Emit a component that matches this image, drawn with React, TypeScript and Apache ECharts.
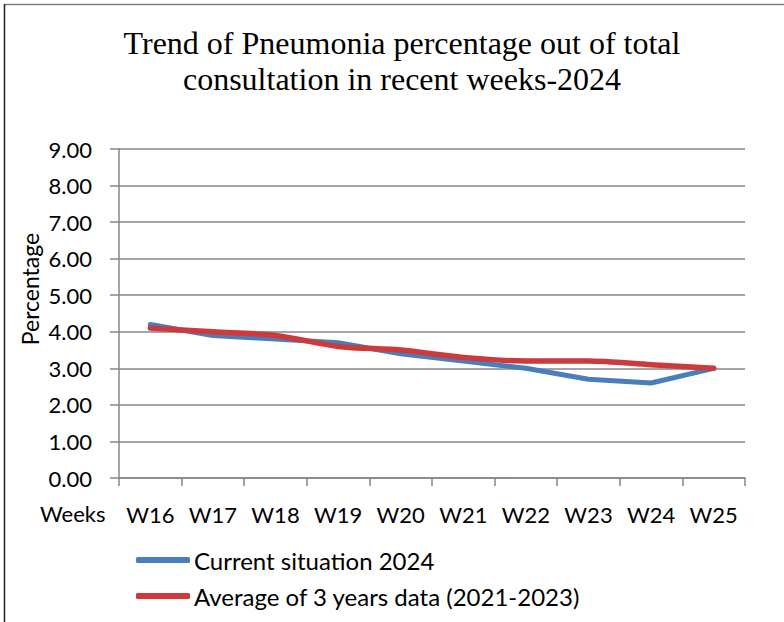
import React, { useEffect, useRef } from "react";
import * as echarts from "echarts";

const weeks = ["W16", "W17", "W18", "W19", "W20", "W21", "W22", "W23", "W24", "W25"];
const current2024 = [4.2, 3.9, 3.8, 3.7, 3.4, 3.2, 3.0, 2.7, 2.6, 3.0];
const avg3Years = [4.1, 4.0, 3.9, 3.6, 3.5, 3.3, 3.2, 3.2, 3.1, 3.0];
const seriesNames = ["Current situation 2024", "Average of 3 years data (2021-2023)"];
const titleText = "Trend of Pneumonia percentage out of total\nconsultation in recent weeks-2024";
const yAxisTitle = "Percentage";
const xAxisTitle = "Weeks";

const SANS = "Lato, 'Open Sans', sans-serif";

export default function App() {
  const ref = useRef<HTMLDivElement>(null);
  useEffect(() => {
    if (!ref.current) return;
    const chart = echarts.init(ref.current, null, { renderer: "svg" });
    chart.setOption({
      animation: false,
      backgroundColor: "#ffffff",
      title: {
        text: titleText,
        left: 397,
        textAlign: "center",
        top: 20,
        textStyle: {
          fontFamily: "'Liberation Serif', 'Times New Roman', serif",
          fontWeight: "normal",
          fontSize: 32,
          lineHeight: 36,
          color: "#000",
        },
      },
      grid: { left: 119, right: 39, top: 149, bottom: 144, containLabel: false },
      legend: {
        orient: "vertical",
        left: 131,
        top: 543,
        itemGap: 12,
        itemWidth: 54,
        itemHeight: 6,
        icon: "roundRect",
        data: seriesNames,
        textStyle: { fontFamily: SANS, fontSize: 24, color: "#000", padding: [0, 0, 0, -1] },
      },
      xAxis: {
        type: "category",
        data: weeks,
        boundaryGap: true,
        axisLine: { show: true, lineStyle: { color: "#868686", width: 1.5 } },
        axisTick: { show: true, length: 8, interval: 0, lineStyle: { color: "#868686", width: 1.5 } },
        axisLabel: { fontFamily: SANS, fontSize: 22, color: "#000", margin: 25, interval: 0, hideOverlap: false },
        splitLine: { show: false },
      },
      yAxis: {
        type: "value",
        min: 0,
        max: 9,
        interval: 1,
        axisLine: { show: true, lineStyle: { color: "#868686", width: 1.5 } },
        axisTick: { show: true, length: 9, lineStyle: { color: "#868686", width: 1.5 } },
        axisLabel: {
          fontFamily: SANS,
          fontSize: 22,
          color: "#000",
          margin: 27,
          formatter: (v: number) => v.toFixed(2),
        },
        splitLine: { show: true, lineStyle: { color: "#868686", width: 1.5 } },
      },
      series: [
        {
          name: seriesNames[0],
          type: "line",
          data: current2024,
          showSymbol: false,
          symbol: "none",
          lineStyle: { color: "#4a7ebb", width: 5, cap: "round", join: "round" },
          itemStyle: { color: "#4a7ebb" },
        },
        {
          name: seriesNames[1],
          type: "line",
          data: avg3Years,
          smooth: 0.3,
          showSymbol: false,
          symbol: "none",
          lineStyle: { color: "#cc3a3c", width: 5.5, cap: "round", join: "round" },
          itemStyle: { color: "#cc3a3c" },
        },
      ],
      graphic: [
        {
          type: "text",
          left: 40,
          top: 502,
          style: { text: xAxisTitle, font: `22px ${SANS}`, fill: "#000" },
        },
        {
          type: "text",
          x: 30,
          y: 289,
          rotation: Math.PI / 2,
          style: {
            text: yAxisTitle,
            font: `23px ${SANS}`,
            fill: "#000",
            align: "center",
            verticalAlign: "middle",
          },
        },
        {
          type: "line",
          shape: { x1: 4, y1: 4.5, x2: 784, y2: 4.5 },
          style: { stroke: "#7f7f7f", lineWidth: 1.5 },
        },
        {
          type: "line",
          shape: { x1: 4.5, y1: 4, x2: 4.5, y2: 622 },
          style: { stroke: "#222222", lineWidth: 1.5 },
        },
      ],
    });
    return () => chart.dispose();
  }, []);
  return (
    <div
      ref={ref}
      style={{ position: "fixed", left: 0, top: 0, width: 784, height: 622 }}
    />
  );
}
